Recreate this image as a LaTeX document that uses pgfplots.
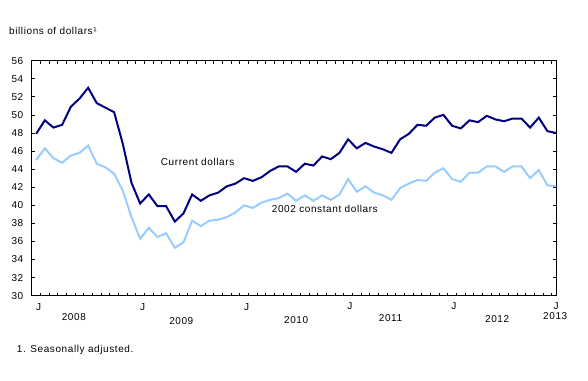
\documentclass[border=0pt]{standalone}
\usepackage{fontspec}
\setmainfont{Liberation Sans}[LetterSpace=6]
\usepackage{pgfplots}
\pgfplotsset{compat=1.18}
\definecolor{darkline}{RGB}{0,0,128}
\definecolor{lightline}{RGB}{153,204,255}
\begin{document}
\begin{tikzpicture}[x=1pt,y=1pt]
\path[use as bounding box] (0,0) rectangle (588,380);
\begin{axis}[
  at={(36.7,93.3)}, anchor=south west,
  scale only axis, width=524.3pt, height=235pt,
  xmin=-0.5, xmax=60, ymin=30, ymax=56,
  ytick={30,32,...,56},
  xtick={-0.5,0.5,...,59.5},
  xticklabels={},
  tick align=inside,
  major tick length=3pt,
  tick style={black, line width=0.7pt},
  axis line style={black, line width=0.9pt},
  /pgf/number format/assume math mode=true,
  yticklabel style={font=\fontsize{10}{12}\selectfont, xshift=-5pt},
  clip=false,
]
\addplot[lightline, line width=2pt] coordinates {
(0,45.0) (1,46.3) (2,45.2) (3,44.7) (4,45.5) (5,45.8) (6,46.6) (7,44.6) (8,44.2) (9,43.5)
(10,41.6) (11,38.7) (12,36.3) (13,37.5) (14,36.5) (15,36.9) (16,35.3) (17,35.9) (18,38.3) (19,37.7)
(20,38.3) (21,38.4) (22,38.7) (23,39.2) (24,40.0) (25,39.7) (26,40.3) (27,40.6) (28,40.8) (29,41.3)
(30,40.5) (31,41.1) (32,40.5) (33,41.1) (34,40.6) (35,41.2) (36,42.9) (37,41.5) (38,42.1) (39,41.4)
(40,41.1) (41,40.6) (42,41.9) (43,42.4) (44,42.8) (45,42.7) (46,43.6) (47,44.1) (48,42.9) (49,42.6)
(50,43.6) (51,43.6) (52,44.3) (53,44.3) (54,43.7) (55,44.3) (56,44.3) (57,43.0) (58,43.9) (59,42.2)
(60,42.1)
};
\addplot[darkline, line width=2pt] coordinates {
(0,47.9) (1,49.4) (2,48.6) (3,48.9) (4,50.9) (5,51.8) (6,53.0) (7,51.3) (8,50.8) (9,50.3)
(10,46.8) (11,42.5) (12,40.2) (13,41.2) (14,39.9) (15,39.9) (16,38.2) (17,39.1) (18,41.2) (19,40.5)
(20,41.1) (21,41.4) (22,42.1) (23,42.4) (24,43.0) (25,42.7) (26,43.1) (27,43.8) (28,44.3) (29,44.3)
(30,43.7) (31,44.6) (32,44.4) (33,45.4) (34,45.1) (35,45.8) (36,47.3) (37,46.3) (38,46.9) (39,46.5)
(40,46.2) (41,45.8) (42,47.3) (43,47.9) (44,48.9) (45,48.8) (46,49.7) (47,50.0) (48,48.8) (49,48.5)
(50,49.4) (51,49.2) (52,49.9) (53,49.5) (54,49.3) (55,49.6) (56,49.6) (57,48.6) (58,49.7) (59,48.2)
(60,48.0)
};
\tikzset{lab/.style={font=\fontsize{10}{12}\selectfont, inner sep=0pt}}
\node[lab] at (axis cs:0.3,30) [yshift=-11pt] {J};
\node[lab] at (axis cs:12.3,30) [yshift=-11pt] {J};
\node[lab] at (axis cs:24.3,30) [yshift=-11pt] {J};
\node[lab] at (axis cs:36.2,30) [yshift=-10pt] {J};
\node[lab] at (axis cs:48.2,30) [yshift=-10pt] {J};
\node[lab] at (axis cs:60,30) [yshift=-10pt] {J};
\node[lab] at (axis cs:4.35,30) [yshift=-21.3pt] {2008};
\node[lab] at (axis cs:16.75,30) [yshift=-25pt] {2009};
\node[lab] at (axis cs:30,30) [yshift=-24pt] {2010};
\node[lab] at (axis cs:40.9,30) [yshift=-22.3pt] {2011};
\node[lab] at (axis cs:53.2,30) [yshift=-23.3pt] {2012};
\node[lab] at (axis cs:59.9,30) [yshift=-20.3pt] {2013};
\end{axis}
\tikzset{lab/.style={font=\fontsize{10}{12}\selectfont, inner sep=0pt}}
\node[lab, anchor=west] at (160.7,217.7) {Current dollars};
\node[lab, anchor=west] at (271.7,170.7) {2002 constant dollars};
\node[lab, anchor=west] at (9,349.3) {billions of dollars¹};
\node[lab, anchor=west] at (16.7,30) {1. Seasonally adjusted.};
\end{tikzpicture}
\end{document}
